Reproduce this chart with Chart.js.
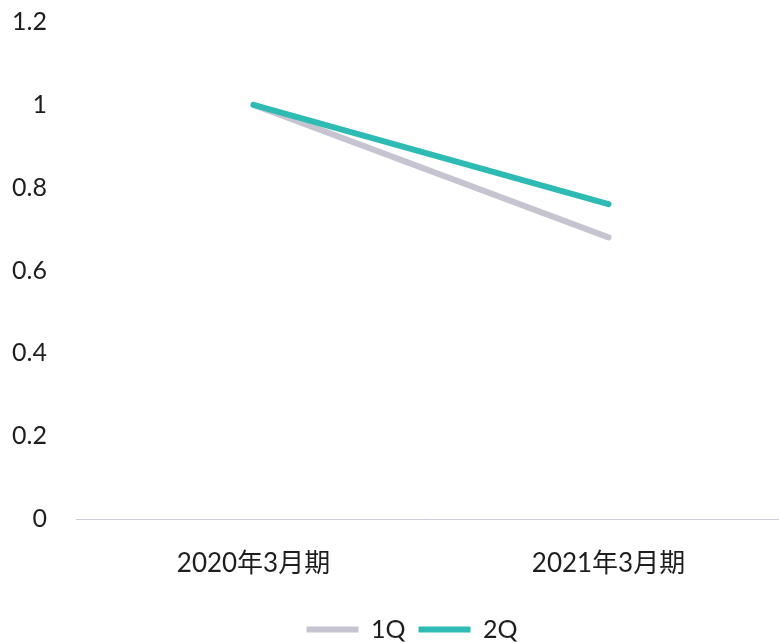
<!DOCTYPE html>
<html>
<head>
<meta charset="utf-8">
<script src="https://cdn.jsdelivr.net/npm/chart.js@4/dist/chart.umd.min.js"></script>
<style>
  html, body { margin: 0; padding: 0; background: #ffffff; overflow: hidden; }
  #wrap { width: 779px; height: 642px; overflow: hidden; position: relative; }
  #chart { display: block; }
</style>
</head>
<body>
<div id="wrap"><canvas id="chart" width="790" height="652"></canvas></div>
<script>
// Fiscal periods on the x axis
const categories = ['2020年3月期', '2021年3月期'];
// Index values per quarter series (2020年3月期 = 1)
const q1Values = [1, 0.68];
const q2Values = [1, 0.76];
const seriesNames = ['1Q', '2Q'];

const FONT = "Lato, 'Noto Sans CJK JP', sans-serif";
const TEXT = '#1e1e1e';

Chart.defaults.font.family = FONT;
Chart.defaults.color = TEXT;

// Nudge the legend row a little to the right of the canvas centre
const legendShift = {
  id: 'legendShift',
  afterLayout(chart) {
    if (chart.legend) { chart.legend.left += 38; }
  }
};

new Chart(document.getElementById('chart'), {
  type: 'line',
  data: {
    labels: categories,
    datasets: [
      {
        label: seriesNames[0],
        data: q1Values,
        borderColor: '#c5c4d0',
        backgroundColor: '#c5c4d0',
        borderWidth: 6,
        borderCapStyle: 'round',
        pointRadius: 0,
        pointHoverRadius: 0,
        tension: 0,
        order: 2
      },
      {
        label: seriesNames[1],
        data: q2Values,
        borderColor: '#2ebbb4',
        backgroundColor: '#2ebbb4',
        borderWidth: 6,
        borderCapStyle: 'round',
        pointRadius: 0,
        pointHoverRadius: 0,
        tension: 0,
        order: 1
      }
    ]
  },
  plugins: [legendShift],
  options: {
    responsive: false,
    animation: false,
    devicePixelRatio: 1,
    layout: { padding: { top: 22, left: 0, right: 4, bottom: 0 } },
    plugins: {
      tooltip: { enabled: false },
      legend: {
        position: 'bottom',
        labels: {
          usePointStyle: true,
          pointStyle: 'line',
          pointStyleWidth: 52,
          boxHeight: 25,
          padding: 13,
          color: TEXT,
          font: { size: 25, family: FONT },
          sort: (a, b) => a.datasetIndex - b.datasetIndex
        }
      }
    },
    scales: {
      x: {
        offset: true,
        grid: { display: false, drawTicks: false },
        border: { display: true, color: '#cfced8', width: 1 },
        ticks: { padding: 29, color: TEXT, font: { size: 26, family: FONT }, maxRotation: 0 },
        afterFit: (scale) => { scale.height = 85; }
      },
      y: {
        min: 0,
        max: 1.2,
        grid: { display: false, drawTicks: false },
        border: { display: false },
        ticks: {
          stepSize: 0.2,
          padding: 29,
          color: TEXT,
          font: { size: 25, family: FONT },
          callback: (v) => String(Number(v.toFixed(1)))
        },
        afterFit: (scale) => {
          scale.width = 76;
          scale.paddingTop = 0;
          scale.paddingBottom = 0;
        }
      }
    }
  }
});
</script>
</body>
</html>
